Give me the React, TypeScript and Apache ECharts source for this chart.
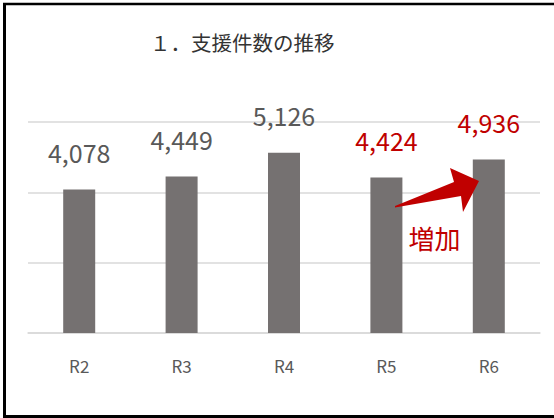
import React, { useEffect, useRef } from "react";
import * as echarts from "echarts";

const categories = ["R2", "R3", "R4", "R5", "R6"];
const values = [4078, 4449, 5126, 4424, 4936];
const labelColors = ["#595959", "#595959", "#595959", "#C00000", "#C00000"];
const titleText = "１．支援件数の推移";
const noteText = "増加";
const yMin = 0;
const yMax = 6000;
const yInterval = 2000;

const FONT = "'Noto Sans CJK JP', 'Noto Sans', sans-serif";

export default function App() {
  const ref = useRef<HTMLDivElement>(null);
  useEffect(() => {
    if (!ref.current) return;
    const chart = echarts.init(ref.current, undefined, { renderer: "svg" });
    chart.setOption({
      animation: false,
      backgroundColor: "#ffffff",
      textStyle: { fontFamily: FONT },
      grid: { left: 28, right: 14, top: 122, bottom: 85 },
      xAxis: {
        type: "category",
        data: categories,
        axisTick: { show: false },
        axisLine: { show: true, lineStyle: { color: "#d9d9d9", width: 1.5 } },
        axisLabel: { color: "#595959", fontSize: 17, margin: 24, fontFamily: FONT },
      },
      yAxis: {
        type: "value",
        min: yMin,
        max: yMax,
        interval: yInterval,
        axisLabel: { show: false },
        axisLine: { show: false },
        axisTick: { show: false },
        splitLine: { lineStyle: { color: "#d9d9d9", width: 1.5 } },
      },
      series: [
        {
          type: "bar",
          barWidth: 32,
          data: values.map((v, i) => ({
            value: v,
            label: { color: labelColors[i] },
          })),
          itemStyle: { color: "#757171" },
          label: {
            show: true,
            position: "top",
            distance: 25,
            fontSize: 25,
            fontFamily: FONT,
            formatter: (p: any) => Number(p.value).toLocaleString("en-US"),
          },
        },
      ],
      graphic: [
        {
          type: "text",
          left: 150,
          top: 32,
          style: { text: titleText, fontSize: 20.5, fill: "#333333", fontFamily: FONT },
        },
        {
          type: "polygon",
          z: 100,
          shape: {
            points: [
              [395, 206],
              [454, 182],
              [450, 168],
              [479, 181],
              [463, 212],
              [461, 196],
              [395, 207.5],
            ],
          },
          style: { fill: "#C00000" },
        },
        {
          type: "text",
          x: 434.5,
          y: 237.5,
          style: {
            text: noteText,
            fontSize: 26,
            fill: "#C00000",
            fontFamily: FONT,
            align: "center",
            verticalAlign: "middle",
          },
        },
        {
          type: "line",
          shape: { x1: 4.5, y1: 3, x2: 4.5, y2: 418 },
          style: { stroke: "#000000", lineWidth: 3 },
        },
        {
          type: "line",
          shape: { x1: 3, y1: 4, x2: 554, y2: 4 },
          style: { stroke: "#000000", lineWidth: 2.5 },
        },
        {
          type: "line",
          shape: { x1: 3, y1: 416.5, x2: 554, y2: 416.5 },
          style: { stroke: "#000000", lineWidth: 3 },
        },
      ],
    });
    return () => chart.dispose();
  }, []);
  return (
    <div
      ref={ref}
      style={{ position: "fixed", left: 0, top: 0, width: 554, height: 418 }}
    />
  );
}
